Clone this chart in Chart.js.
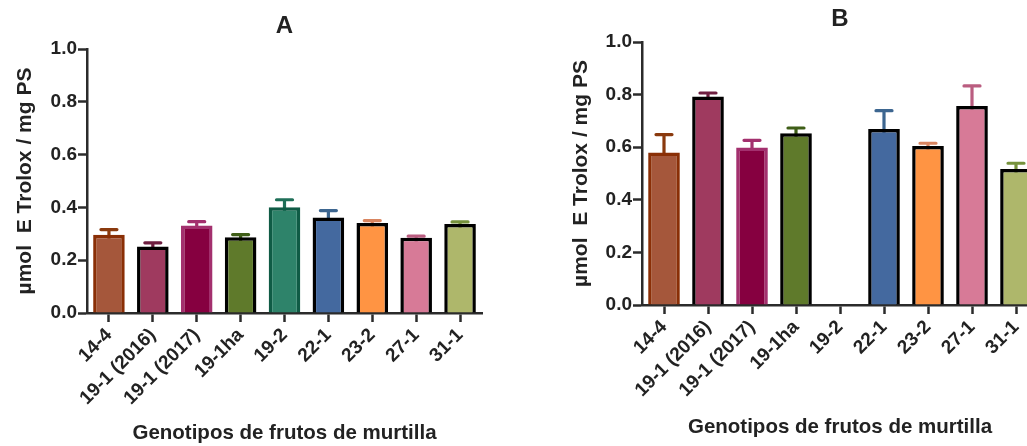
<!DOCTYPE html>
<html>
<head>
<meta charset="utf-8">
<script src="https://cdn.jsdelivr.net/npm/chart.js@4"></script>
<style>
  html, body { margin: 0; padding: 0; background: #fff; overflow: hidden; width: 1027px; height: 446px; }
  canvas { position: absolute; top: 0; }
  #chartA { left: 0; }
  #chartB { left: 560px; }
</style>
</head>
<body>
<canvas id="chartA" width="500" height="446"></canvas>
<canvas id="chartB" width="478" height="446"></canvas>
<script>
const genotypes = ["14-4", "19-1 (2016)", "19-1 (2017)", "19-1ha", "19-2", "22-1", "23-2", "27-1", "31-1"];
const yTicks = [0, 0.2, 0.4, 0.6, 0.8, 1.0];

// panel A: mean and upper error (SEM)
const meanA = [0.296, 0.252, 0.331, 0.287, 0.401, 0.362, 0.341, 0.285, 0.337];
const errA = [0.020, 0.014, 0.015, 0.010, 0.028, 0.026, 0.009, 0.006, 0.008];

// panel B: 19-2 has no value
const meanB = [0.580, 0.793, 0.599, 0.653, null, 0.669, 0.605, 0.757, 0.517];
const errB = [0.068, 0.013, 0.027, 0.020, null, 0.070, 0.010, 0.076, 0.022];

const fillColors = ["#a5573b", "#9f3a5f", "#860040", "#5f7a2b", "#2e836a", "#44699f", "#ff9443", "#d77a97", "#aeb76b"];
const edgeColors = ["#8a2f06", "#000000", "#a3306e", "#000000", "#0f5b45", "#000000", "#000000", "#000000", "#000000"];
const errColors = ["#8a3a0e", "#6e1e40", "#a3306e", "#3f5e17", "#1f6f58", "#3d6690", "#d98560", "#ba5d80", "#76923c"];

const fontFamily = "'Liberation Sans', Arial, sans-serif";
const textColor = "#222222";

// draws the upper error bars, below the bars so the bar border covers the stem
const errorBars = {
  id: "errorBars",
  beforeDatasetsDraw(chart, args, opts) {
    const ctx = chart.ctx;
    const meta = chart.getDatasetMeta(0);
    const yScale = chart.scales.y;
    const means = chart.data.datasets[0].data;
    ctx.save();
    ctx.lineWidth = 3.2;
    ctx.lineCap = "round";
    meta.data.forEach((bar, i) => {
      if (means[i] == null || opts.errors[i] == null) return;
      const yTop = yScale.getPixelForValue(means[i] + opts.errors[i]);
      const yBase = yScale.getPixelForValue(means[i]) + 4;
      ctx.strokeStyle = errColors[i];
      ctx.beginPath();
      ctx.moveTo(bar.x, yBase);
      ctx.lineTo(bar.x, yTop);
      ctx.moveTo(bar.x - 8, yTop);
      ctx.lineTo(bar.x + 8, yTop);
      ctx.stroke();
    });
    ctx.restore();
  },
};

function makeChart(id, title, means, errors, lay) {
  const ctx = document.getElementById(id).getContext("2d");
  return new Chart(ctx, {
    type: "bar",
    data: {
      labels: genotypes,
      datasets: [
        {
          data: means,
          backgroundColor: fillColors,
          borderColor: edgeColors,
          borderWidth: 3.5,
          categoryPercentage: 1,
          barPercentage: 0.72,
        },
      ],
    },
    options: {
      responsive: false,
      animation: false,
      devicePixelRatio: 1,
      layout: { padding: { left: 0, top: 0, bottom: 0, right: lay.padRight } },
      plugins: {
        legend: { display: false },
        tooltip: { enabled: false },
        title: {
          display: true,
          text: title,
          fullSize: false,
          color: textColor,
          font: { family: fontFamily, size: 24, weight: "bold" },
          padding: { top: lay.titleTop, bottom: lay.titleBottom },
        },
        errorBars: { errors: errors },
      },
      scales: {
        x: {
          afterFit(scale) { scale.height = lay.xHeight; },
          grid: {
            offset: false,
            drawOnChartArea: false,
            drawTicks: true,
            tickLength: 9,
            tickWidth: 2.5,
            tickColor: "#2b2b2b",
          },
          border: { color: "#2b2b2b", width: 2.5 },
          ticks: {
            color: textColor,
            font: { family: fontFamily, size: 19, weight: "bold" },
            minRotation: 45,
            maxRotation: 45,
            padding: 2,
            autoSkip: false,
          },
          title: {
            display: true,
            text: "Genotipos de frutos de murtilla",
            color: textColor,
            font: { family: fontFamily, size: 20.5, weight: "bold" },
            padding: { top: 0, bottom: lay.xTitleBottom },
          },
        },
        y: {
          min: 0,
          max: 1,
          afterFit(scale) { scale.width = lay.yWidth; },
          afterBuildTicks(scale) { scale.ticks = yTicks.map((v) => ({ value: v })); },
          grid: {
            drawOnChartArea: false,
            drawTicks: true,
            tickLength: 9,
            tickWidth: 2.5,
            tickColor: "#2b2b2b",
          },
          border: { color: "#2b2b2b", width: 2.5 },
          ticks: {
            color: textColor,
            font: { family: fontFamily, size: 19, weight: "bold" },
            padding: 1,
            callback: (v) => Number(v).toFixed(1),
          },
          title: {
            display: true,
            text: "\u00b5mol  E Trolox / mg PS",
            color: textColor,
            font: { family: fontFamily, size: 21, weight: "bold" },
            padding: { top: lay.yTitleTop, bottom: 0 },
          },
        },
      },
    },
    plugins: [errorBars],
  });
}

makeChart("chartA", "A", meanA, errA, {
  titleTop: 11.5, titleBottom: 8.7, xHeight: 133, xTitleBottom: 0, yWidth: 87, yTitleTop: 12.5, padRight: 18,
});
makeChart("chartB", "B", meanB, errB, {
  titleTop: 4.5, titleBottom: 8.7, xHeight: 141, xTitleBottom: 6, yWidth: 82, yTitleTop: 9, padRight: 0,
});
</script>
</body>
</html>
